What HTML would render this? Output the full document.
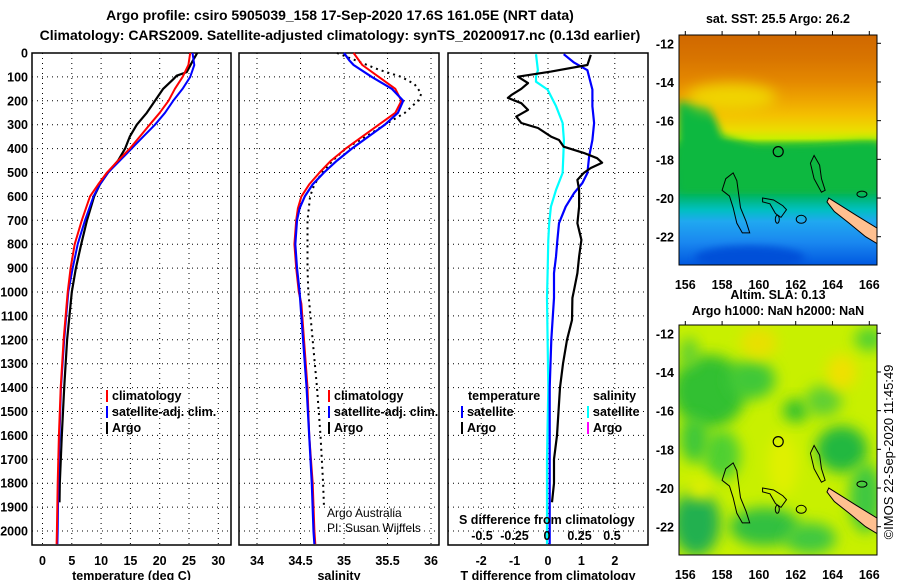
<!DOCTYPE html>
<html><head><meta charset="utf-8">
<style>
html,body{margin:0;padding:0;background:#fff;}
svg{display:block;font-family:"Liberation Sans",Arial,sans-serif;}
.b{font-weight:bold;font-size:12.5px;fill:#000;}
.t{font-weight:bold;font-size:14px;fill:#000;}
.n{font-size:12px;fill:#000;}
.grid{stroke:#000;stroke-width:1;stroke-dasharray:1 4;fill:none;}
</style></head>
<body>
<svg id="chart" width="900" height="580" viewBox="0 0 900 580">
<defs>
<linearGradient id="sstGrad" x1="0" y1="0" x2="0" y2="1">
<stop offset="0" stop-color="#d06800"/><stop offset="0.1" stop-color="#d87400"/>
<stop offset="0.2" stop-color="#e48800"/><stop offset="0.28" stop-color="#eea400"/>
<stop offset="0.35" stop-color="#f4c000"/><stop offset="0.41" stop-color="#ecdc00"/>
<stop offset="0.45" stop-color="#c8f000"/><stop offset="0.47" stop-color="#60d020"/>
<stop offset="0.5" stop-color="#10b838"/><stop offset="0.66" stop-color="#00b050"/>
<stop offset="0.72" stop-color="#00b888"/><stop offset="0.76" stop-color="#00c0c0"/>
<stop offset="0.81" stop-color="#20a8f0"/><stop offset="0.9" stop-color="#1a88f0"/>
<stop offset="1" stop-color="#0058e0"/>
</linearGradient>
<filter id="blur8" x="-50%" y="-50%" width="200%" height="200%"><feGaussianBlur stdDeviation="7"/></filter>
<filter id="blur4" x="-50%" y="-50%" width="200%" height="200%"><feGaussianBlur stdDeviation="4"/></filter>
<clipPath id="clipMap1"><rect x="679" y="35" width="198" height="230"/></clipPath>
<clipPath id="clipMap2"><rect x="679" y="325" width="198" height="230"/></clipPath>
</defs>

<text class="t" x="340" y="20" text-anchor="middle">Argo profile: csiro 5905039_158 17-Sep-2020 17.6S 161.05E (NRT data)</text>
<text class="t" x="340" y="40" text-anchor="middle">Climatology: CARS2009. Satellite-adjusted climatology: synTS_20200917.nc (0.13d earlier)</text>

<g id="panels"></g>
<g id="maps"></g>
</svg>

<script>
// ---------- DATA ----------
const depthTicks = [0,100,200,300,400,500,600,700,800,900,1000,1100,1200,1300,1400,1500,1600,1700,1800,1900,2000];
const tempTicks = [0,5,10,15,20,25,30];
const salTicks = [34,34.5,35,35.5,36];
const tdiffTicks = [-2,-1,0,1,2];
const sdiffTicks = [-0.5,-0.25,0,0.25,0.5];
const sdiffTickLabels = ["-0.5","-0.25","0","0.25","0.5"];

// temperature profiles
const tClimDepth = [0,50,100,150,200,250,300,350,400,450,500,550,600,700,800,900,1000,1200,1400,1600,1800,2000,2055];
const tClimVal   = [25.2,24.9,23.9,22.6,21.5,20.0,18.3,16.6,14.9,12.9,11.0,9.5,8.1,6.7,5.5,4.8,4.3,3.6,3.1,2.8,2.6,2.45,2.4];
const tSatDepth  = [0,50,100,150,200,250,300,350,400,450,500,550,600,700,800,900,1000,1200,1400,1600,1800,2000,2055];
const tSatVal    = [25.6,25.9,25.2,23.9,22.3,20.9,19.2,17.2,15.2,13.2,11.2,9.8,8.7,7.25,6.0,5.15,4.4,3.7,3.15,2.9,2.7,2.6,2.55];
const tArgoDepth = [0,30,80,95,110,150,200,250,300,350,400,450,500,550,600,700,800,900,1000,1200,1400,1600,1800,1880];
const tArgoVal   = [26.4,25.7,24.6,22.9,22.3,20.6,19.2,17.8,16.1,14.9,14.1,12.9,11.2,9.8,8.8,7.6,6.6,5.7,5.0,4.2,3.7,3.3,2.95,2.9];

// salinity profiles
const sClimDepth = [0,50,100,150,200,250,300,350,400,450,500,550,600,650,700,800,900,1000,1050,1400,1600,1800,2000,2055];
const sClimVal   = [35.11,35.21,35.40,35.59,35.66,35.59,35.40,35.21,35.02,34.85,34.72,34.60,34.51,34.47,34.45,34.43,34.45,34.48,34.51,34.58,34.60,34.64,34.66,34.67];
const sSatDepth  = [0,30,50,100,150,200,250,300,350,400,450,500,550,600,650,700,800,900,1000,1400,1600,1800,2000,2055];
const sSatVal    = [35.0,35.06,35.11,35.32,35.55,35.68,35.62,35.47,35.28,35.09,34.92,34.77,34.64,34.55,34.49,34.46,34.44,34.46,34.49,34.57,34.60,34.63,34.65,34.66];
const sArgoDepth = [0,30,70,100,130,170,200,250,300,350,400,450,500,550,600,700,800,900,1000,1400,1600,1800,1900];
const sArgoVal   = [34.92,35.13,35.40,35.66,35.81,35.89,35.85,35.70,35.47,35.25,35.02,34.87,34.75,34.66,34.61,34.58,34.58,34.58,34.59,34.69,34.73,34.76,34.77];

// differences from climatology
const dTArgoDepth = [8,50,78,99,126,150,176,188,210,238,266,293,314,350,364,392,418,440,459,481,502,531,573,643,712,782,852,921,991,1025,1117,1200,1300,1400,1600,1700,1800,1880];
const dTArgoVal   = [1.28,1.18,0.09,-0.9,-0.6,-0.8,-1.1,-1.2,-0.8,-0.6,-0.95,-0.8,-0.3,0.09,0.33,0.47,1.07,1.47,1.62,1.28,1.07,0.88,0.93,0.93,0.88,1.0,0.93,0.88,0.78,0.73,0.72,0.57,0.45,0.36,0.27,0.18,0.18,0.12];
const dTSatDepth  = [5,40,72,100,153,223,293,364,434,502,544,586,643,712,782,852,921,1025,1200,1400,1700,2055];
const dTSatVal    = [0.47,0.78,1.18,1.23,1.33,1.33,1.38,1.33,1.23,1.18,1.03,0.78,0.53,0.33,0.28,0.24,0.18,0.18,0.1,0.05,0.05,0.05];
const dSSatDepth  = [5,72,99,120,153,223,293,364,434,502,572,643,712,782,921,1025,1400,1700,2055];
const dSSatVal    = [-0.085,-0.07,-0.085,-0.085,0.005,0.07,0.12,0.13,0.125,0.12,0.07,0.03,0.017,0.01,0.005,0.0,0.01,0.0,0.0];

// map axes
const lonTicks = [156,158,160,162,164,166];
const latTicks = [-12,-14,-16,-18,-20,-22];

// ---------- SCALES ----------
const Y0 = 53, YB = 545;
const yD = d => Y0 + d * 0.239;
const xT = t => 42.5 + t * 5.86;
const xS = s => 257 + (s - 34) * 87;
const xDT = t => 548 + t * 33.4;
const xDS = s => 547 + s * 130;
const NS = "http://www.w3.org/2000/svg";
const panelsG = document.getElementById('panels');
const mapsG = document.getElementById('maps');

function mk(tag, attrs, parent) {
  const e = document.createElementNS(NS, tag);
  for (const k in attrs) e.setAttribute(k, attrs[k]);
  parent.appendChild(e);
  return e;
}
function txt(parent, x, y, s, cls, anchor, name) {
  const e = mk('text', {x: x, y: y, class: cls, 'text-anchor': anchor || 'start'}, parent);
  e.textContent = s;
  
  
  return e;
}
function line(parent, depths, vals, xf, color, width, dash, name) {
  let d = '';
  for (let i = 0; i < depths.length; i++) d += (i ? 'L' : 'M') + xf(vals[i]).toFixed(1) + ',' + yD(depths[i]).toFixed(1);
  const p = mk('path', {d: d, fill: 'none', stroke: color, 'stroke-width': width, 'stroke-linejoin': 'round'}, parent);
  if (dash) p.setAttribute('stroke-dasharray', dash);
  
  
  return p;
}

// ---------- PANELS ----------
const panelDefs = [
  {x0: 32, x1: 231, name: 'temperature-panel', ticks: tempTicks, xf: xT, title: 'temperature (deg C)'},
  {x0: 239, x1: 439, name: 'salinity-panel', ticks: salTicks, xf: xS, title: 'salinity'},
  {x0: 448, x1: 648, name: 'difference-panel', ticks: tdiffTicks, xf: xDT, title: 'T difference from climatology'}
];
panelDefs.forEach(p => {
  const g = mk('g', {}, panelsG);
  
  
  depthTicks.forEach(d => {
    if (d === 0) return;
    const l = mk('line', {x1: p.x0, x2: p.x1, y1: yD(d), y2: yD(d), class: 'grid'}, g);
    
    
  });
  p.ticks.forEach(t => {
    const l = mk('line', {x1: p.xf(t), x2: p.xf(t), y1: Y0, y2: YB, class: 'grid'}, g);
    
    
    txt(g, p.xf(t), 565, String(t), 'b', 'middle', 'x-tick-label');
  });
  const r = mk('rect', {x: p.x0, y: Y0, width: p.x1 - p.x0, height: YB - Y0, fill: 'none', stroke: '#000', 'stroke-width': 1.5}, g);
  
  
  txt(g, (p.x0 + p.x1) / 2, 580, p.title, 'b', 'middle', 'x-axis-title');
});
depthTicks.forEach(d => txt(panelsG, 28, yD(d) + 4.5, String(d), 'b', 'end', 'depth-tick-label'));

line(panelsG, tArgoDepth, tArgoVal, xT, '#000', 2.2, null, 'argo-temperature-line');
line(panelsG, tSatDepth, tSatVal, xT, '#0000ff', 2, null, 'satellite-temperature-line');
line(panelsG, tClimDepth, tClimVal, xT, '#ff0000', 2, null, 'climatology-temperature-line');
line(panelsG, sArgoDepth, sArgoVal, xS, '#000', 2, '2 4', 'argo-salinity-line');
line(panelsG, sClimDepth, sClimVal, xS, '#ff0000', 2, null, 'climatology-salinity-line');
line(panelsG, sSatDepth, sSatVal, xS, '#0000ff', 2.2, null, 'satellite-salinity-line');
line(panelsG, dSSatDepth, dSSatVal, xDS, '#00ffff', 2.2, null, 'satellite-salinity-diff-line');
line(panelsG, dTSatDepth, dTSatVal, xDT, '#0000ff', 2.2, null, 'satellite-temperature-diff-line');
line(panelsG, dTArgoDepth, dTArgoVal, xDT, '#000', 2.2, null, 'argo-temperature-diff-line');

function legend(x, y, color, label) {
  const m = mk('line', {x1: x, x2: x, y1: y - 10, y2: y + 2, stroke: color, 'stroke-width': 2}, panelsG);
  
  
  txt(panelsG, x + 5, y, label, 'b', 'start', 'legend-entry');
}
legend(107, 400, '#ff0000', 'climatology');
legend(107, 416, '#0000ff', 'satellite-adj. clim.');
legend(107, 432, '#000', 'Argo');
legend(329, 400, '#ff0000', 'climatology');
legend(329, 416, '#0000ff', 'satellite-adj. clim.');
legend(329, 432, '#000', 'Argo');
txt(panelsG, 468, 400, 'temperature', 'b', 'start', 'legend-heading-temperature');
txt(panelsG, 593, 400, 'salinity', 'b', 'start', 'legend-heading-salinity');
legend(462, 416, '#0000ff', 'satellite');
legend(462, 432, '#000', 'Argo');
legend(588, 416, '#00ffff', 'satellite');
legend(588, 432, '#ff00ff', 'Argo');
txt(panelsG, 327, 517, 'Argo Australia', 'n', 'start', 'credit-argo-australia');
txt(panelsG, 327, 532, 'PI: Susan Wijffels', 'n', 'start', 'credit-pi');
txt(panelsG, 459, 524, 'S difference from climatology', 'b', 'start', 'salinity-diff-axis-title');
sdiffTicks.forEach((s, i) => txt(panelsG, xDS(s), 540, sdiffTickLabels[i], 'b', 'middle', 'salinity-diff-tick-label'));

// ---------- MAPS ----------
const mx = lon => 685.3 + (lon - 156) * 18.4;
const myBase = lat => 43.3 + (-12 - lat) * 19.34;

const islandA = [[158.2,-19.0],[158.6,-18.7],[158.8,-19.1],[158.9,-19.8],[159.0,-20.5],[159.3,-21.2],[159.5,-21.8],[159.1,-21.8],[158.8,-21.3],[158.6,-20.5],[158.4,-19.9],[158.0,-19.6]];
const islandB = [[160.2,-20.0],[160.8,-20.1],[161.3,-20.4],[161.5,-20.6],[161.2,-21.0],[160.9,-20.8],[160.6,-20.3],[160.2,-20.2]];
const islandC = [[163.0,-17.8],[163.3,-18.3],[163.4,-19.0],[163.6,-19.6],[163.4,-19.7],[163.0,-19.0],[162.8,-18.2]];
const caledonia = [[163.8,-20.0],[164.3,-20.3],[165.3,-20.9],[166.5,-21.6],[166.5,-22.4],[165.8,-22.0],[164.9,-21.3],[164.1,-20.7],[163.7,-20.2]];
const slaBlobs = [[157.3,-15.0,2.0,1.9,'#30c030'],[159.6,-14.4,1.3,1.0,'#40c838'],[156.6,-21.8,1.3,1.7,'#20b050'],[160.3,-22.0,1.9,1.0,'#30c040'],[164.5,-18.0,1.4,1.2,'#20b840'],[162.0,-16.0,0.7,0.6,'#30c030'],[165.8,-20.5,0.9,1.8,'#40c840'],[158.0,-18.3,1.0,1.3,'#50d030'],[162.8,-22.6,1.4,0.8,'#40c840'],[166.0,-12.3,0.8,0.6,'#50d030'],[156.2,-13.0,0.5,0.8,'#60d030'],[156.5,-17.5,0.8,1.2,'#40c838'],[163.5,-15.5,1.0,0.8,'#60d030']];
const slaWarm = [[160.0,-12.5,1.0,0.8,'#e8e000'],[164.5,-14.0,0.8,0.9,'#f0e000'],[161.3,-18.8,0.8,1.6,'#e0f000'],[156.8,-20.0,0.8,0.6,'#e0f000']];

function buildMap(top, clipId, kind) {
  const g = mk('g', {}, mapsG);
  
  
  const my = lat => myBase(lat) + (top - 35);
  const inner = mk('g', {'clip-path': 'url(#' + clipId + ')'}, g);
  if (kind === 'sst') {
    const r = mk('rect', {x: 679, y: top, width: 198, height: 230, fill: 'url(#sstGrad)'}, inner);
    
    
    const pts = [[155.6,-15.0],[157.3,-15.1],[158.0,-16.8],[160,-17.4],[163,-17.3],[165.5,-17.1],[166.5,-17.1],[166.5,-19.8],[155.6,-19.8]].map(p => mx(p[0]) + ',' + my(p[1])).join(' ');
    const gp = mk('polygon', {points: pts, fill: '#10b840', filter: 'url(#blur4)'}, inner);
    
    
    const ye = mk('ellipse', {cx: mx(158.5), cy: my(-14.8), rx: 45, ry: 14, fill: '#f0d400', filter: 'url(#blur8)'}, inner);
    
    
    const bl = mk('ellipse', {cx: mx(159.5), cy: my(-23.1), rx: 55, ry: 12, fill: '#0050d8', filter: 'url(#blur4)'}, inner);
    
    
  } else {
    const r = mk('rect', {x: 679, y: top, width: 198, height: 230, fill: '#c8f000'}, inner);
    
    
    slaBlobs.concat(slaWarm).forEach(b => {
      const e = mk('ellipse', {cx: mx(b[0]), cy: my(b[1]), rx: b[2] * 18.4, ry: b[3] * 19.34, fill: b[4], filter: 'url(#blur8)'}, inner);
      
      
    });
  }
  [islandA, islandB, islandC].forEach(isl => {
    const p = mk('polygon', {points: isl.map(q => mx(q[0]) + ',' + my(q[1])).join(' '), fill: 'none', stroke: '#000', 'stroke-width': 1}, inner);
    
    
  });
  [[162.3,-21.1,5,4],[165.6,-19.8,5,3],[161.0,-21.1,2,4]].forEach(e0 => {
    const e = mk('ellipse', {cx: mx(e0[0]), cy: my(e0[1]), rx: e0[2], ry: e0[3], fill: 'none', stroke: '#000'}, inner);
    
    
  });
  const nc = mk('polygon', {points: caledonia.map(q => mx(q[0]) + ',' + my(q[1])).join(' '), fill: '#ffc090', stroke: '#000', 'stroke-width': 1}, inner);
  
  
  const c = mk('circle', {cx: mx(161.05), cy: my(-17.6), r: 5, fill: 'none', stroke: '#000', 'stroke-width': 1.2}, g);
  
  
  const fr = mk('rect', {x: 679, y: top, width: 198, height: 230, fill: 'none', stroke: '#000', 'stroke-width': 1}, g);
  
  
  lonTicks.forEach(lon => {
    mk('line', {x1: mx(lon), x2: mx(lon), y1: top, y2: top - 4, stroke: '#000'}, g);
    txt(g, mx(lon), top + 254, String(lon), 'b', 'middle', 'longitude-tick-label');
  });
  latTicks.forEach(lat => {
    mk('line', {x1: 877, x2: 881, y1: my(lat), y2: my(lat), stroke: '#000'}, g);
    txt(g, 674, my(lat) + 5, String(lat), 'b', 'end', 'latitude-tick-label');
  });
}
buildMap(35, 'clipMap1', 'sst');
buildMap(325, 'clipMap2', 'sla');
txt(mapsG, 778, 23, 'sat. SST: 25.5 Argo: 26.2', 'b', 'middle', 'sst-map-title');
txt(mapsG, 778, 299, 'Altim. SLA: 0.13', 'b', 'middle', 'sla-map-title');
txt(mapsG, 778, 315, 'Argo h1000: NaN h2000: NaN', 'b', 'middle', 'sla-map-subtitle');
const stamp = txt(mapsG, 0, 0, '©IMOS 22-Sep-2020 11:45:49', 'n', 'middle', 'timestamp');
stamp.setAttribute('transform', 'translate(893,452) rotate(-90)');
stamp.setAttribute('style', 'font-size:13px');
</script>
</body></html>
